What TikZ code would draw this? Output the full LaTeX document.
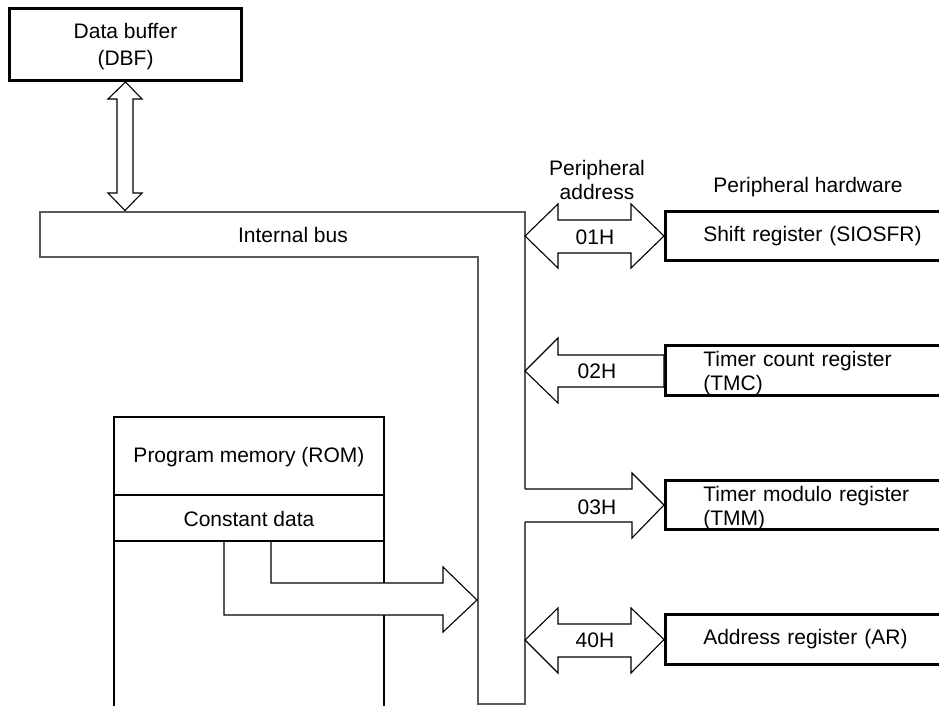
\documentclass[tikz,border=0pt]{standalone}
\usepackage{fontspec}
\setmainfont{Liberation Sans}
\usepackage{xcolor}
\usepackage{tikz}
\usetikzlibrary{positioning}

\definecolor{busgray}{HTML}{5A5A5A}

\begin{document}
\begin{tikzpicture}[x=1pt, y=-1pt,
    every node/.style={font=\fontsize{21}{24}\selectfont, inner sep=0pt},
    thickbox/.style={draw, line width=2.6pt},
    regbox/.style={thickbox, anchor=west, minimum height=49.5, text width=320, inner xsep=38, align=left},
    busline/.style={draw=busgray, line width=1.3pt, line join=miter},
    blockline/.style={draw=black, line width=1.1pt, fill=white}]
    \useasboundingbox (0,0) rectangle (939,706);

    % Data buffer
    \node[thickbox, minimum width=232.4, minimum height=72.4, align=center, text depth=-6pt] (dbf) at (125.5,44.5) {Data buffer\\[3pt](DBF)};

    % Internal bus
    \draw[busline] (525,489) -- (525,212) -- (40,212) -- (40,257) -- (478,257) -- (478,704) -- (525,704) -- (525,522);
    \node (buslabel) at (293,235) {Internal bus};
    \coordinate (bustop) at (125,210.5);
    \draw[blockline] (dbf.south) -- (142,99) -- (133,99) -- (133,193) -- (142,193) -- (bustop)
        -- (108,193) -- (117,193) -- (117,99) -- (108,99) -- cycle;

    % Peripheral hardware
    \node (perlabel) at (808,187) {Peripheral hardware};
    \node (adrlabel) at (597,180) [align=center] {Peripheral\\address};
    \node[regbox] (sio) at (664,236) {Shift register (SIOSFR)};
    \node[regbox, text depth=22.5pt] (tmc) at (664,370.5) {Timer count register\\(TMC)};
    \node[regbox, text depth=22.5pt] (tmm) at (664,505) {Timer modulo register\\(TMM)};
    \node[regbox] (ar) at (664,639.5) {Address register (AR)};

    % 01H
    \coordinate (b01) at (525,236);
    \draw[blockline] (b01) -- (558,204) -- (558,220) -- (631,220) -- (631,204) -- (sio.west)
        -- (631,268) -- (631,253) -- (558,253) -- (558,268) -- cycle;
    \node (lbl01) at (595,237) {01H};
    % 02H
    \coordinate (b02) at (525,371);
    \draw[blockline] (b02) -- (558,338) -- (558,355) -- (tmc.west |- 0,355) -- (tmc.west |- 0,387)
        -- (558,387) -- (558,403) -- cycle;
    \node (lbl02) at (597,371) {02H};
    % 03H
    \draw[blockline] (525,489) -- (632,489) -- (632,473) -- (tmm.west) -- (632,538) -- (632,522) -- (525,522);
    \node (lbl03) at (597,507) {03H};
    % 40H
    \coordinate (b40) at (525,640);
    \draw[blockline] (b40) -- (558,608) -- (558,624) -- (631,624) -- (631,608) -- (ar.west)
        -- (631,673) -- (631,657) -- (558,657) -- (558,673) -- cycle;
    \node (lbl40) at (595,640) {40H};

    % ROM
    \node[thickbox, minimum width=270, minimum height=290] (rom) at (249,562) {};
    \node (romlabel) at (249,457) {Program memory (ROM)};
    \node (constlabel) at (249,519) {Constant data};
    \coordinate (busin) at (477,600);
    \draw[blockline] (271,541) -- (271,583) -- (443,583) -- (443,567) -- (busin) -- (443,632) -- (443,615) -- (224,615) -- (224,541);
    \draw[line width=1.6pt] (rom.west |- 0,495) -- (rom.east |- 0,495);
    \draw[line width=1.6pt] (rom.west |- 0,541) -- (rom.east |- 0,541);
\end{tikzpicture}
\end{document}
